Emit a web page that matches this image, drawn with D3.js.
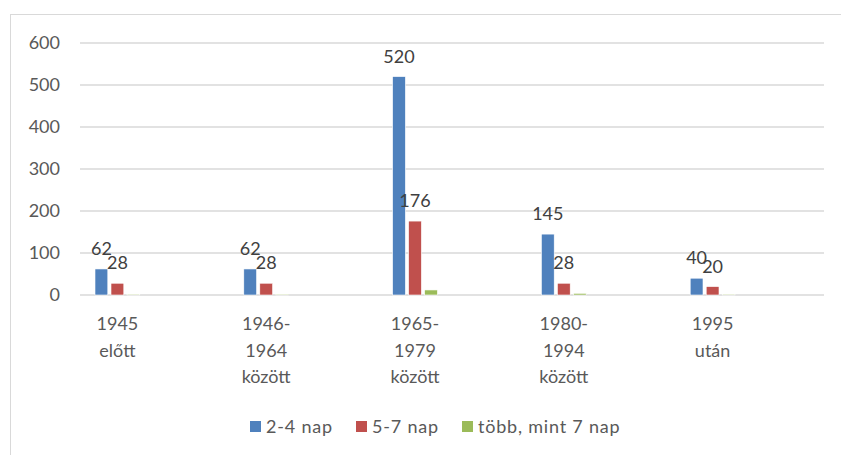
<!DOCTYPE html>
<html>
<head>
<meta charset="utf-8">
<script src="https://cdn.jsdelivr.net/npm/d3@7"></script>
<style>
  html, body { margin: 0; padding: 0; background: #fff; }
  svg { display: block; font-family: Lato, "Open Sans", sans-serif; }
</style>
</head>
<body>
<svg id="chart" width="841" height="455"></svg>
<script>
// Periods (each label split into its display lines)
const categories = ["1945 előtt", "1946-1964 között", "1965-1979 között", "1980-1994 között", "1995 után"];
const categoryLines = [["1945", "előtt"], ["1946-", "1964", "között"], ["1965-", "1979", "között"], ["1980-", "1994", "között"], ["1995", "után"]];

// Series
const seriesNames = ["2-4 nap", "5-7 nap", "több, mint 7 nap"];
const shortStay = [62, 62, 520, 145, 40];
const midStay = [28, 28, 176, 28, 20];
const longStay = [2, 2, 12, 4, 2];
const seriesValues = [shortStay, midStay, longStay];
const seriesColors = ["#4F81BD", "#C0504D", "#9BBB59"];
const labelledSeries = [true, true, false];

const yTicks = [0, 100, 200, 300, 400, 500, 600];

const FONT = 18;
const svg = d3.select("#chart");

// Chart frame
svg.append("rect")
  .attr("x", 10.5).attr("y", 14.5)
  .attr("width", 840).attr("height", 450)
  .attr("fill", "none").attr("stroke", "#d9d9d9").attr("stroke-width", 1);

const plot = { left: 80, right: 824, top: 43, bottom: 295 };

const y = d3.scaleLinear().domain([0, 600]).range([plot.bottom, plot.top]);
const x0 = d3.scaleBand().domain(categories).range([plot.left, plot.right]).padding(0);
const x1 = d3.scaleBand().domain(seriesNames).range([15, 59.8]).paddingInner(0.2).paddingOuter(0);
const groupCenter = c => x0(c) + (x1.range()[0] + x1.range()[1]) / 2;

// Horizontal gridlines
svg.append("g").selectAll("line").data(yTicks).join("line")
  .attr("x1", plot.left).attr("x2", plot.right)
  .attr("y1", d => y(d)).attr("y2", d => y(d))
  .attr("stroke", "#d9d9d9").attr("stroke-width", 1.4);

// Y axis labels
const yAxis = d3.axisLeft(y).tickValues(yTicks).tickSize(0).tickPadding(0);
svg.append("g")
  .attr("transform", `translate(${plot.left - 20},0)`)
  .call(yAxis)
  .call(g => g.select(".domain").remove())
  .call(g => g.selectAll("text")
    .attr("fill", "#595959").attr("font-size", FONT)
    .attr("font-family", "Lato, 'Open Sans', sans-serif"));

// Bars
seriesNames.forEach((s, si) => {
  const g = svg.append("g");
  g.selectAll("rect").data(categories).join("rect")
    .attr("x", c => x0(c) + x1(s))
    .attr("width", x1.bandwidth())
    .attr("y", (c, i) => y(seriesValues[si][i]))
    .attr("height", (c, i) => y(0) - y(seriesValues[si][i]))
    .attr("fill", seriesColors[si])
    .attr("stroke", "#ffffff").attr("stroke-width", 0.6);

  if (labelledSeries[si]) {
    g.selectAll("text").data(categories).join("text")
      .attr("x", c => x0(c) + x1(s) + x1.bandwidth() / 2)
      .attr("y", (c, i) => y(seriesValues[si][i]) - 14)
      .attr("text-anchor", "middle")
      .attr("fill", "#404040").attr("font-size", FONT)
      .text((c, i) => seriesValues[si][i]);
  }
});

// Category labels
const xl = svg.append("g");
categories.forEach((c, ci) => {
  const t = xl.append("text")
    .attr("text-anchor", "middle")
    .attr("fill", "#595959").attr("font-size", FONT);
  categoryLines[ci].forEach((line, li) => {
    t.append("tspan")
      .attr("x", groupCenter(c))
      .attr("y", 330 + li * 26.5)
      .text(line);
  });
});

// Legend
const legendX = [250, 356, 462];
const legend = svg.append("g");
seriesNames.forEach((s, si) => {
  legend.append("rect")
    .attr("x", legendX[si]).attr("y", 421)
    .attr("width", 11).attr("height", 11)
    .attr("fill", seriesColors[si]);
  legend.append("text")
    .attr("x", legendX[si] + 16).attr("y", 433)
    .attr("fill", "#595959").attr("font-size", FONT)
    .attr("letter-spacing", 0.8)
    .text(s);
});
</script>
</body>
</html>
